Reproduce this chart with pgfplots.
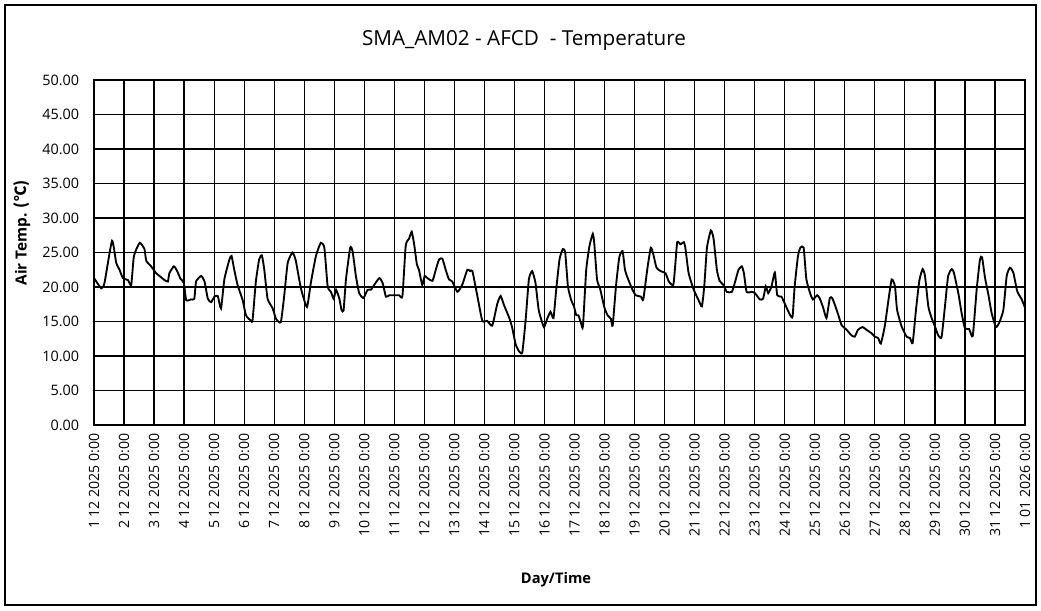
\documentclass[border=0pt]{standalone}
\usepackage{fontspec}
\setmainfont{Open Sans}
\newfontfamily\cjk{Noto Sans CJK SC}
\usepackage{pgfplots}
\pgfplotsset{compat=1.18}
\begin{document}
\begin{tikzpicture}
\begin{axis}[
  at={(0,0)}, anchor=south west,
  scale only axis,
  width=698.25pt, height=258.75pt,
  xmin=0, xmax=31, ymin=0, ymax=50,
  xtick={0,...,31},
  xticklabels={1 12 2025 0:00,2 12 2025 0:00,3 12 2025 0:00,4 12 2025 0:00,5 12 2025 0:00,6 12 2025 0:00,7 12 2025 0:00,8 12 2025 0:00,9 12 2025 0:00,10 12 2025 0:00,11 12 2025 0:00,12 12 2025 0:00,13 12 2025 0:00,14 12 2025 0:00,15 12 2025 0:00,16 12 2025 0:00,17 12 2025 0:00,18 12 2025 0:00,19 12 2025 0:00,20 12 2025 0:00,21 12 2025 0:00,22 12 2025 0:00,23 12 2025 0:00,24 12 2025 0:00,25 12 2025 0:00,26 12 2025 0:00,27 12 2025 0:00,28 12 2025 0:00,29 12 2025 0:00,30 12 2025 0:00,31 12 2025 0:00,1 01 2026 0:00},
  ytick={0,5,...,50},
  yticklabel style={/pgf/number format/fixed, /pgf/number format/fixed zerofill, /pgf/number format/precision=2, /pgf/number format/assume math mode=true},
  yticklabel style={font=\fontsize{10.8}{13}\selectfont, inner sep=0pt, xshift=-11pt},
  xticklabel style={font=\fontsize{10.6}{12}\selectfont, rotate=90, anchor=east, inner sep=0pt, xshift=-6pt},
  major tick length=0pt,
  grid=major,
  major grid style={black, line width=0.9pt},
  axis line style={black, line width=0.9pt},
  clip=false,
]
\addplot[black, line width=1.4pt, smooth, tension=0.3] coordinates {
(0.00,21.3)(0.24,19.8)(0.35,20.6)(0.60,26.7)(0.74,23.5)(0.85,22.5)(0.96,21.3)(1.13,21.0)(1.24,20.3)(1.33,24.5)
(1.52,26.4)(1.68,25.5)(1.74,23.8)(1.90,23.0)(2.07,22.0)(2.18,21.6)(2.35,21.0)(2.46,20.8)(2.51,22.0)(2.66,23.0)
(2.77,22.3)(2.88,21.2)(2.99,20.6)(3.07,18.1)(3.23,18.2)(3.34,18.3)(3.40,20.8)(3.57,21.6)(3.68,20.8)(3.79,18.3)
(3.90,17.8)(4.01,18.6)(4.12,18.7)(4.23,16.9)(4.34,21.1)(4.51,24.0)(4.58,24.5)(4.67,22.5)(4.78,20.3)(4.95,18.1)
(5.06,15.9)(5.23,15.1)(5.28,15.2)(5.39,20.8)(5.50,24.0)(5.59,24.6)(5.67,22.5)(5.78,18.3)(5.95,16.9)(6.06,15.4)
(6.22,14.9)(6.33,18.6)(6.45,23.5)(6.61,25.0)(6.72,23.8)(6.89,19.8)(7.09,17.1)(7.22,20.6)(7.39,24.5)(7.55,26.4)
(7.67,25.7)(7.78,20.1)(7.89,19.3)(7.98,18.3)(8.06,19.6)(8.17,18.3)(8.24,16.7)(8.31,16.6)(8.39,21.1)(8.53,25.7)
(8.61,25.2)(8.72,21.6)(8.83,19.1)(8.97,18.4)(9.11,19.6)(9.22,19.6)(9.33,20.3)(9.50,21.3)(9.61,20.6)(9.72,18.6)
(9.83,18.8)(10.00,18.8)(10.16,18.8)(10.27,18.7)(10.38,26.0)(10.49,27.0)(10.58,28.0)(10.66,26.2)(10.75,23.3)(10.82,22.5)
(10.93,20.3)(11.01,21.6)(11.10,21.3)(11.27,20.9)(11.38,22.5)(11.49,24.0)(11.60,24.1)(11.71,22.5)(11.82,21.1)(11.93,20.8)
(12.10,19.3)(12.26,20.3)(12.43,22.5)(12.52,22.3)(12.60,22.3)(12.76,18.8)(12.93,15.1)(13.09,15.1)(13.26,14.4)(13.43,17.6)
(13.54,18.7)(13.65,17.4)(13.82,15.6)(13.92,14.2)(14.04,11.7)(14.15,10.7)(14.26,10.5)(14.37,15.1)(14.48,21.1)(14.59,22.3)
(14.70,20.6)(14.81,16.6)(14.98,14.2)(15.09,15.4)(15.20,16.4)(15.30,15.5)(15.39,19.6)(15.50,24.0)(15.61,25.5)(15.69,25.0)
(15.78,20.1)(15.89,18.1)(15.98,17.2)(16.06,15.9)(16.13,15.9)(16.22,14.7)(16.28,14.3)(16.39,22.5)(16.50,26.0)(16.61,27.7)
(16.66,26.2)(16.75,21.1)(16.86,19.6)(16.99,17.1)(17.10,15.9)(17.21,15.4)(17.27,14.4)(17.38,20.1)(17.49,24.3)(17.60,25.2)
(17.68,22.5)(17.77,21.3)(17.93,19.6)(18.04,18.8)(18.21,18.6)(18.29,18.2)(18.43,22.8)(18.54,25.7)(18.62,24.8)(18.73,22.8)
(18.87,22.3)(19.03,22.0)(19.14,20.8)(19.29,20.3)(19.36,23.5)(19.42,26.5)(19.53,26.2)(19.64,26.5)(19.69,25.7)(19.80,22.0)
(19.97,19.6)(20.13,18.1)(20.24,17.2)(20.32,20.1)(20.41,25.7)(20.54,28.2)(20.63,27.0)(20.74,22.5)(20.83,20.9)(20.96,20.3)
(21.07,19.3)(21.24,19.3)(21.35,20.8)(21.46,22.5)(21.57,23.0)(21.64,22.0)(21.73,19.3)(21.90,19.3)(22.01,19.1)(22.17,18.2)
(22.28,18.3)(22.37,20.1)(22.45,19.1)(22.56,20.1)(22.67,22.1)(22.75,18.8)(22.89,18.6)(23.00,17.6)(23.17,16.0)(23.26,15.7)
(23.33,20.1)(23.44,24.5)(23.52,25.7)(23.63,25.7)(23.72,21.1)(23.86,18.9)(23.94,18.2)(24.08,18.8)(24.17,18.3)(24.28,17.0)
(24.39,15.5)(24.50,18.4)(24.58,18.4)(24.67,17.4)(24.78,16.0)(24.89,14.5)(25.06,13.8)(25.22,13.0)(25.33,12.8)(25.44,13.8)
(25.59,14.2)(25.72,13.8)(25.89,13.3)(26.00,12.8)(26.11,12.6)(26.20,11.8)(26.33,14.3)(26.44,17.7)(26.56,21.1)(26.67,20.1)
(26.74,16.7)(26.89,14.3)(27.06,12.8)(27.17,12.6)(27.26,11.9)(27.37,16.7)(27.48,20.9)(27.59,22.6)(27.67,21.6)(27.78,17.2)
(27.89,15.5)(28.00,14.3)(28.11,13.0)(28.22,12.7)(28.33,17.0)(28.44,21.6)(28.56,22.6)(28.63,22.1)(28.78,19.1)(28.89,16.2)
(29.00,14.0)(29.14,13.9)(29.26,12.9)(29.39,19.6)(29.50,24.0)(29.57,24.3)(29.67,21.3)(29.78,18.9)(29.89,16.2)(30.03,14.2)
(30.14,14.8)(30.28,16.7)(30.39,21.6)(30.50,22.8)(30.61,22.1)(30.74,19.4)(30.89,18.2)(31.00,17.0)
};
\end{axis}
\node[font=\fontsize{15.5}{18}\selectfont] at (322.5pt,288.75pt) {SMA\_AM02 - AFCD\ \ - Temperature};
\node[font=\bfseries\fontsize{11.5}{13}\selectfont, rotate=90] at (-54pt,144pt) {Air Temp. {\cjk (℃)}};
\node[font=\bfseries\fontsize{11}{13}\selectfont] at (346.5pt,-116.25pt) {Day/Time};
\draw[black, line width=1.7pt] (-66.75pt,-135pt) rectangle (706.5pt,315pt);
\pgfresetboundingbox
\path[use as bounding box] (-70.5pt,-138.75pt) rectangle (710.25pt,318.75pt);
\end{tikzpicture}
\end{document}
